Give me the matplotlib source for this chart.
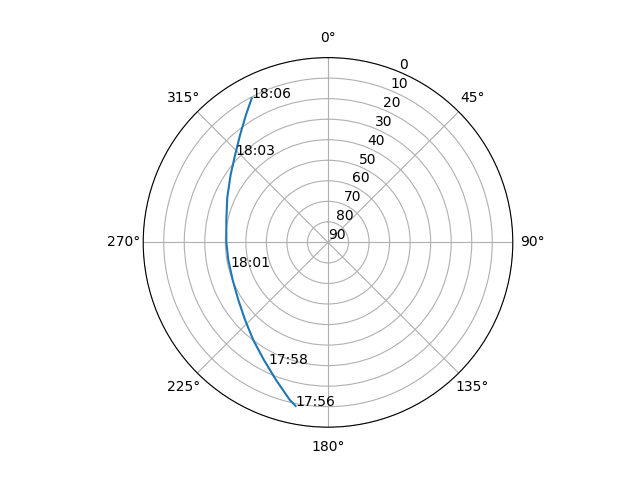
import numpy as np
import matplotlib
matplotlib.use("Agg")
import matplotlib.pyplot as plt

# satellite pass track: azimuth (deg) and elevation (deg)
azimuth = [191.2, 193.6, 200.7, 208.6, 217.4, 226.9, 237.3, 248.5, 260.0,
           270.0, 282.4, 294.0, 304.7, 313.2, 320.7, 327.2, 332.1]
elevation = [8.8, 11.0, 18.4, 24.8, 30.1, 34.7, 38.1, 40.1, 40.7,
             40.5, 39.3, 36.3, 32.3, 27.9, 22.4, 16.2, 10.6]

# time labels along the track
label_text = ["17:56", "17:58", "18:01", "18:03", "18:06"]
label_az = [191.2, 206.1, 255.8, 313.4, 332.1]
label_el = [8.8, 23.9, 41.0, 27.7, 10.6]

fig = plt.figure(figsize=(6.4, 4.8), dpi=100)
ax = fig.add_subplot(projection="polar")
ax.set_theta_zero_location("N")
ax.set_theta_direction(-1)

ax.plot(np.radians(azimuth), elevation)
for t, a, e in zip(label_text, label_az, label_el):
    ax.text(np.radians(a), e, t)

ax.set_ylim(90, 0)
ax.set_yticks(range(0, 91, 10))

fig.savefig("out.png")
